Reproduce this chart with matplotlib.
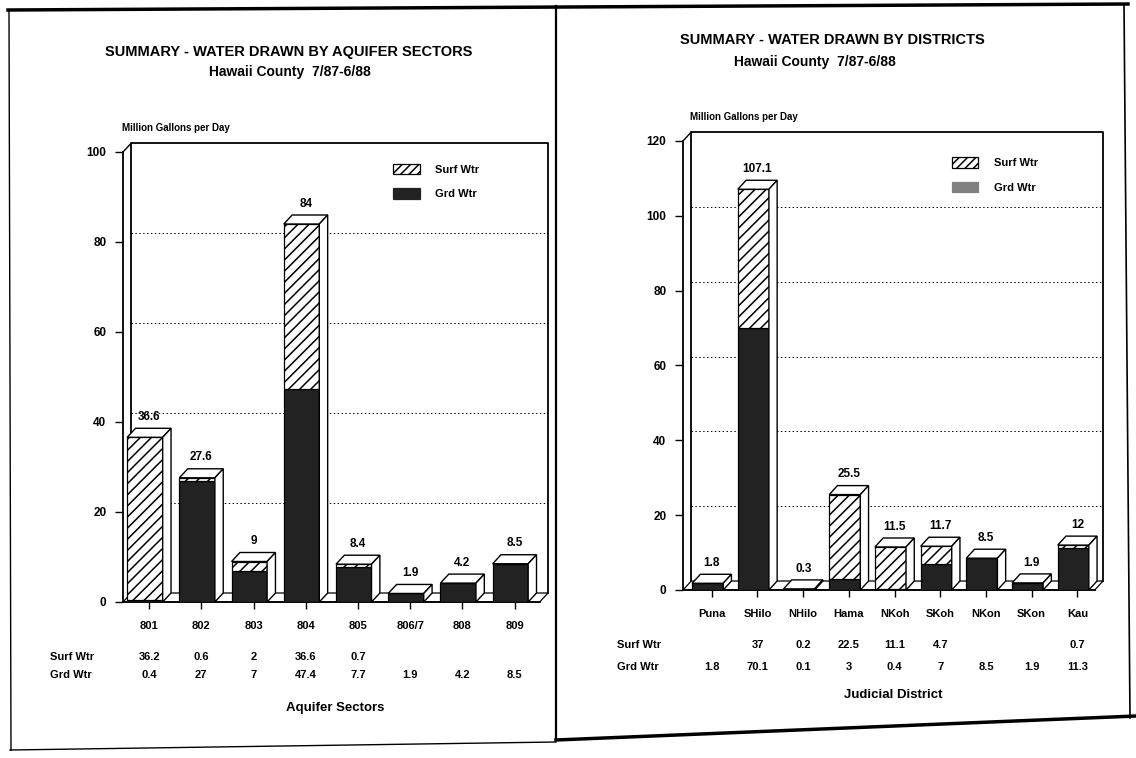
import numpy as np
import matplotlib.pyplot as plt
from matplotlib.patches import Polygon, Patch
from matplotlib.lines import Line2D

plt.rcParams['font.family'] = ['Liberation Sans', 'DejaVu Sans']
plt.rcParams['hatch.linewidth'] = 1.1

# water drawn by aquifer sector (million gallons per day)
sectors = ['801', '802', '803', '804', '805', '806/7', '808', '809']
sector_surf = [36.2, 0.6, 2, 36.6, 0.7, 0, 0, 0]
sector_grd = [0.4, 27, 7, 47.4, 7.7, 1.9, 4.2, 8.5]

# water drawn by judicial district
districts = ['Puna', 'SHilo', 'NHilo', 'Hama', 'NKoh', 'SKoh', 'NKon', 'SKon', 'Kau']
district_surf = [0, 37, 0.2, 22.5, 11.1, 4.7, 0, 0, 0.7]
district_grd = [1.8, 70.1, 0.1, 3, 0.4, 7, 8.5, 1.9, 11.3]

DARK = '#222222'


def fmt(v):
    return '{:g}'.format(round(v, 1))


def draw_panel(ax, cats, surf, grd, ymax, step, dx, dy, x0, xr, xlab,
               rows_y, rowlab_x, leg_xy, leg_grd):
    n = len(cats)
    x = np.arange(n)
    surf = np.array(surf, dtype=float)
    grd = np.array(grd, dtype=float)
    tot = surf + grd
    ytop = ymax + dy
    width = 0.68

    ax.set_xlim(x0, xr)
    ax.set_ylim(0, ytop)

    # back wall, side wall and floor
    ax.add_patch(Polygon([(x0, 0), (xr - dx, 0), (xr, dy), (x0 + dx, dy)],
                         closed=True, facecolor='white', edgecolor='black',
                         lw=0.9, zorder=1.5, clip_on=False))
    ax.plot([x0 + dx, x0 + dx, xr, xr], [dy, ytop, ytop, dy], color='black',
            lw=1.3, zorder=1, clip_on=False)
    ax.plot([x0, x0 + dx], [ymax, ytop], color='black', lw=1.0, clip_on=False)
    for g in np.arange(step, ymax, step):
        ax.plot([x0 + dx, xr], [g + dy, g + dy], color='black', lw=0.7,
                ls=(0, (1.5, 2.5)), zorder=1)

    # front faces of the stacked bars
    xc = x - dx / 2
    ax.bar(xc, grd, width, facecolor=DARK, edgecolor='black', lw=0.9, zorder=3)
    ax.bar(xc, surf, width, bottom=grd, facecolor='white', hatch='///',
           edgecolor='black', lw=0.9, zorder=3)

    # top and side faces for the 3-D look
    for xi, t in zip(xc, tot):
        l, r = xi - width / 2, xi + width / 2
        ax.add_patch(Polygon([(l, t), (r, t), (r + dx, t + dy), (l + dx, t + dy)],
                             closed=True, facecolor='white', edgecolor='black',
                             lw=1.0, zorder=4))
        ax.add_patch(Polygon([(r, 0), (r + dx, dy), (r + dx, t + dy), (r, t)],
                             closed=True, facecolor='white', edgecolor='black',
                             lw=1.0, zorder=4))
        ax.text(xi + dx / 2, t + dy * 1.6, fmt(t), ha='center', va='bottom',
                fontsize=8.5, fontweight='bold', zorder=5)

    # axes
    for s in ['top', 'right']:
        ax.spines[s].set_visible(False)
    ax.spines['left'].set_bounds(0, ymax)
    ax.spines['left'].set_linewidth(1.3)
    ax.spines['bottom'].set_bounds(x0, xr - dx)
    ax.spines['bottom'].set_linewidth(1.3)
    ax.set_yticks(np.arange(0, ymax + 1, step))
    ax.set_xticks(x)
    ax.set_xticklabels(cats)
    ax.tick_params(axis='y', direction='out', length=6, width=1.0, pad=6,
                   labelsize=8.5)
    ax.tick_params(axis='x', direction='out', length=5, width=1.0, pad=9,
                   labelsize=8)
    for lab in ax.get_xticklabels() + ax.get_yticklabels():
        lab.set_fontweight('bold')

    # data table under the chart
    tr = ax.get_xaxis_transform()
    ax.text(rowlab_x, rows_y[0], 'Surf Wtr', transform=tr, ha='left',
            va='center', fontsize=8, fontweight='bold')
    ax.text(rowlab_x, rows_y[1], 'Grd Wtr', transform=tr, ha='left',
            va='center', fontsize=8, fontweight='bold')
    for xi, s, g in zip(x, surf, grd):
        if s > 0:
            ax.text(xi, rows_y[0], fmt(s), transform=tr, ha='center',
                    va='center', fontsize=8, fontweight='bold')
        if g > 0:
            ax.text(xi, rows_y[1], fmt(g), transform=tr, ha='center',
                    va='center', fontsize=8, fontweight='bold')
    ax.text(0.5, -0.23, xlab, transform=ax.transAxes, ha='center',
            va='center', fontsize=9.5, fontweight='bold')

    handles = [Patch(facecolor='white', edgecolor='black', hatch='////', lw=0.9),
               Patch(facecolor=leg_grd, edgecolor=leg_grd, lw=0.9)]
    ax.legend(handles, ['Surf Wtr', 'Grd Wtr'], loc='upper left',
              bbox_to_anchor=leg_xy, frameon=False, borderpad=0,
              borderaxespad=0, handlelength=2.4, handleheight=1.1,
              labelspacing=1.2, handletextpad=1.4,
              prop={'size': 8, 'weight': 'bold'})


W, H = 1136, 758
fig = plt.figure(figsize=(W / 100, H / 100), dpi=100)


def fx(px):
    return px / W


def fy(py):
    return 1 - py / H


ax1 = fig.add_axes([fx(123), fy(602), fx(548 - 123), (602 - 143) / H])
ax2 = fig.add_axes([fx(683), fy(590), fx(1103 - 683), (590 - 132) / H])
for a in (ax1, ax2):
    a.set_facecolor('none')

draw_panel(ax1, sectors, sector_surf, sector_grd, 100, 20, 0.16, 2.0,
           -0.5, 7.64, 'Aquifer Sectors', (-0.12, -0.16), -1.9,
           (0.635, 0.955), DARK)
draw_panel(ax2, districts, district_surf, district_grd, 120, 20, 0.18, 2.4,
           -0.63, 8.56, 'Judicial District', (-0.12, -0.168), -2.08,
           (0.64, 0.945), '#808080')

# titles
fig.text(fx(289), fy(52), 'SUMMARY - WATER DRAWN BY AQUIFER SECTORS',
         ha='center', va='center', fontsize=10.5, fontweight='bold')
fig.text(fx(290), fy(72), 'Hawaii County  7/87-6/88', ha='center',
         va='center', fontsize=10, fontweight='bold')
fig.text(fx(832), fy(40), 'SUMMARY - WATER DRAWN BY DISTRICTS',
         ha='center', va='center', fontsize=10.5, fontweight='bold')
fig.text(fx(815), fy(62), 'Hawaii County  7/87-6/88', ha='center',
         va='center', fontsize=10, fontweight='bold')
fig.text(fx(122), fy(128), 'Million Gallons per Day', ha='left',
         va='center', fontsize=7, fontweight='bold')
fig.text(fx(690), fy(117), 'Million Gallons per Day', ha='left',
         va='center', fontsize=7, fontweight='bold')

# page frame
frame = [((8, 10), (1128, 4), 2.5),
         ((9, 10), (11, 750), 1.0),
         ((556, 6), (556, 740), 1.6),
         ((1124, 4), (1130, 718), 1.2),
         ((10, 750), (556, 742), 1.0),
         ((556, 740), (1136, 716), 2.5)]
for (xa, ya), (xb, yb), lw in frame:
    fig.add_artist(Line2D([fx(xa), fx(xb)], [fy(ya), fy(yb)], color='black',
                          lw=lw))

fig.savefig('out.png', dpi=100, facecolor='white')
